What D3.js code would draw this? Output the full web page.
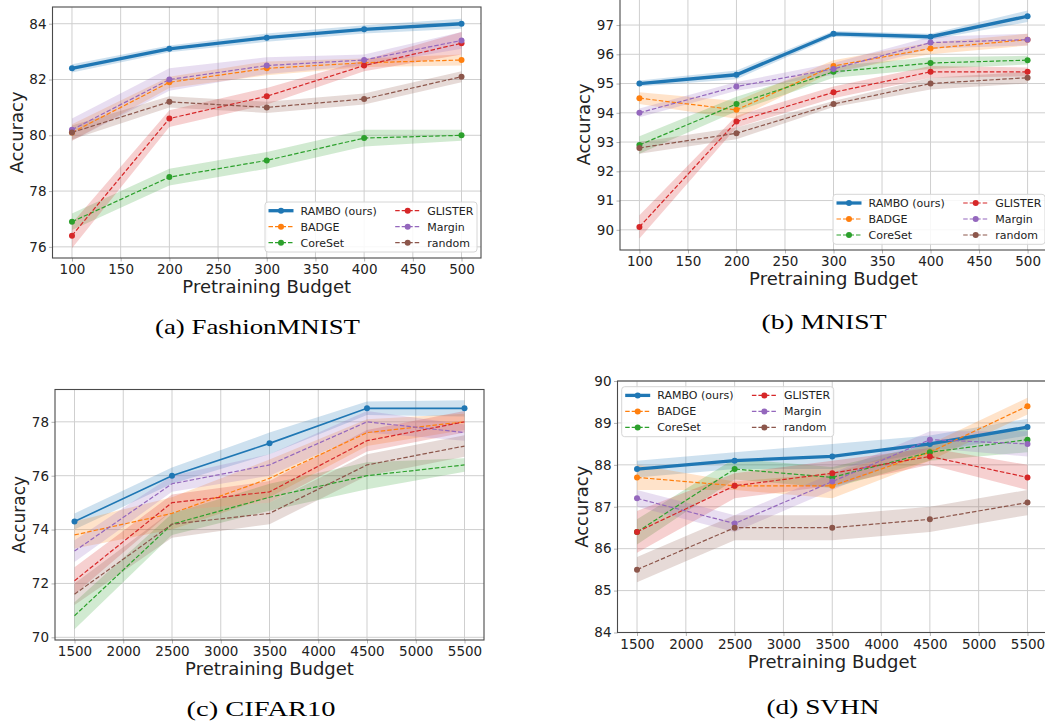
<!DOCTYPE html>
<html>
<head>
<meta charset="utf-8">
<script src="https://cdn.jsdelivr.net/npm/d3@7"></script>
<style>
body { margin: 0; background: #fff; }
svg text { font-family: "DejaVu Sans", sans-serif; fill: #222; }
</style>
</head>
<body>
<svg id="fig" width="1045" height="723"></svg>
<script>

// methods, in legend order
var methods = ['RAMBO (ours)', 'BADGE', 'CoreSet', 'GLISTER', 'Margin', 'random'];
var colors = ['#1f77b4', '#ff7f0e', '#2ca02c', '#d62728', '#9467bd', '#8c564b'];

var smallBudget = [100, 200, 300, 400, 500];
var largeBudget = [1500, 2500, 3500, 4500, 5500];
var smallTicks = [100, 150, 200, 250, 300, 350, 400, 450, 500];
var largeTicks = [1500, 2000, 2500, 3000, 3500, 4000, 4500, 5000, 5500];

// FashionMNIST (rows follow methods)
var fashionMean = [
	[82.4, 83.1, 83.5, 83.8, 84.0],
	[80.1, 81.9, 82.4, 82.6, 82.7],
	[76.9, 78.5, 79.1, 79.9, 80.0],
	[76.4, 80.6, 81.4, 82.5, 83.3],
	[80.2, 82.0, 82.5, 82.7, 83.4],
	[80.1, 81.2, 81.0, 81.3, 82.1]
];
var fashionStd = [
	[0.15, 0.12, 0.15, 0.15, 0.18],
	[0.3, 0.2, 0.25, 0.15, 0.2],
	[0.3, 0.3, 0.3, 0.3, 0.2],
	[0.45, 0.3, 0.3, 0.2, 0.4],
	[0.4, 0.4, 0.3, 0.2, 0.3],
	[0.25, 0.2, 0.2, 0.2, 0.2]
];
var fashionYTicks = [76, 78, 80, 82, 84];

// MNIST
var mnistMean = [
	[95.0, 95.3, 96.7, 96.6, 97.3],
	[94.5, 94.1, 95.6, 96.2, 96.5],
	[92.9, 94.3, 95.4, 95.7, 95.8],
	[90.1, 93.7, 94.7, 95.4, 95.4],
	[94.0, 94.9, 95.5, 96.4, 96.5],
	[92.8, 93.3, 94.3, 95.0, 95.2]
];
var mnistStd = [
	[0.1, 0.15, 0.1, 0.1, 0.2],
	[0.2, 0.3, 0.2, 0.2, 0.2],
	[0.3, 0.25, 0.2, 0.2, 0.15],
	[0.4, 0.2, 0.2, 0.2, 0.15],
	[0.15, 0.15, 0.2, 0.2, 0.2],
	[0.2, 0.2, 0.1, 0.2, 0.2]
];
var mnistYTicks = [90, 91, 92, 93, 94, 95, 96, 97];

// CIFAR10
var cifarMean = [
	[74.3, 76.0, 77.2, 78.5, 78.5],
	[73.8, 74.6, 75.9, 77.6, 78.0],
	[70.8, 74.2, 75.2, 76.0, 76.4],
	[72.1, 75.0, 75.4, 77.3, 78.0],
	[73.2, 75.7, 76.4, 78.0, 77.6],
	[71.6, 74.2, 74.6, 76.4, 77.1]
];
var cifarStd = [
	[0.3, 0.3, 0.4, 0.25, 0.3],
	[0.5, 0.6, 0.7, 0.5, 0.3],
	[0.5, 0.4, 0.5, 0.5, 0.25],
	[0.5, 0.3, 0.4, 0.4, 0.4],
	[0.4, 0.3, 0.4, 0.4, 0.3],
	[0.4, 0.5, 0.4, 0.4, 0.4]
];
var cifarYTicks = [70, 72, 74, 76, 78];

// SVHN
var svhnMean = [
	[87.9, 88.1, 88.2, 88.5, 88.9],
	[87.7, 87.5, 87.5, 88.3, 89.4],
	[86.4, 87.9, 87.7, 88.3, 88.6],
	[86.4, 87.5, 87.8, 88.2, 87.7],
	[87.2, 86.6, 87.6, 88.6, 88.5],
	[85.5, 86.5, 86.5, 86.7, 87.1]
];
var svhnStd = [
	[0.2, 0.2, 0.3, 0.2, 0.2],
	[0.3, 0.1, 0.3, 0.2, 0.2],
	[0.3, 0.25, 0.25, 0.2, 0.3],
	[0.5, 0.3, 0.3, 0.2, 0.3],
	[0.2, 0.2, 0.2, 0.2, 0.3],
	[0.3, 0.3, 0.3, 0.3, 0.3]
];
var svhnYTicks = [84, 85, 86, 87, 88, 89, 90];

var panels = [
	{ id: 'a', mean: fashionMean, std: fashionStd, budget: smallBudget, xTicks: smallTicks, yTicks: fashionYTicks,
	  box: { l: 52.5, r: 481, t: 7, b: 258 }, xDom: [80, 520], yDom: [75.6, 84.6],
	  legend: [265, 202], caption: '(a) FashionMNIST', cap: [257.5, 334, 205], light: false, ylab: 18 },
	{ id: 'b', mean: mnistMean, std: mnistStd, budget: smallBudget, xTicks: smallTicks, yTicks: mnistYTicks,
	  box: { l: 620, r: 1047, t: -1, b: 250 }, xDom: [80, 520], yDom: [89.31, 97.89],
	  legend: [833, 194.3], caption: '(b) MNIST', cap: [824, 329, 125], light: false, ylab: 18 },
	{ id: 'c', mean: cifarMean, std: cifarStd, budget: largeBudget, xTicks: largeTicks, yTicks: cifarYTicks,
	  box: { l: 55, r: 484, t: 389.5, b: 640 }, xDom: [1300, 5700], yDom: [69.9, 79.2],
	  legend: null, caption: '(c) CIFAR10', cap: [261, 716, 149], light: true, ylab: 17 },
	{ id: 'd', mean: svhnMean, std: svhnStd, budget: largeBudget, xTicks: largeTicks, yTicks: svhnYTicks,
	  box: { l: 617.5, r: 1047, t: 381, b: 632.5 }, xDom: [1300, 5700], yDom: [84, 90],
	  legend: [621.7, 386.7], caption: '(d) SVHN', cap: [823, 714, 113], light: false, ylab: 18 }
];

var svg = d3.select('#fig');
svg.append('rect').attr('width', 1045).attr('height', 723).attr('fill', '#fff');
var defs = svg.append('defs');

function lineWidth(p, i) {
	if (i === 0)
		return p.light ? 1.6 : 3.3;
	return 1.2;
}

panels.forEach(function(p) {

	var x = d3.scaleLinear().domain(p.xDom).range([p.box.l, p.box.r]);
	var y = d3.scaleLinear().domain(p.yDom).range([p.box.b, p.box.t]);
	var w = p.box.r - p.box.l;
	var h = p.box.b - p.box.t;

	defs.append('clipPath').attr('id', 'clip-' + p.id)
		.append('rect').attr('x', p.box.l).attr('y', p.box.t).attr('width', w).attr('height', h);

	var g = svg.append('g');

	// grid
	var grid = g.append('g').attr('stroke', '#cfcfcf').attr('stroke-width', 1);
	grid.selectAll('.vx').data(p.xTicks).enter().append('line')
		.attr('x1', function(d) { return x(d); }).attr('x2', function(d) { return x(d); })
		.attr('y1', p.box.t).attr('y2', p.box.b);
	grid.selectAll('.hy').data(p.yTicks).enter().append('line')
		.attr('y1', function(d) { return y(d); }).attr('y2', function(d) { return y(d); })
		.attr('x1', p.box.l).attr('x2', p.box.r);

	// axes
	var fmt = d3.format('d');
	var ax = g.append('g').attr('transform', 'translate(0,' + p.box.b + ')')
		.call(d3.axisBottom(x).tickValues(p.xTicks).tickFormat(fmt).tickSize(3.5).tickPadding(3.4));
	var ay = g.append('g').attr('transform', 'translate(' + p.box.l + ',0)')
		.call(d3.axisLeft(y).tickValues(p.yTicks).tickFormat(fmt).tickSize(3.5).tickPadding(2.5));
	[ax, ay].forEach(function(a) {
		a.attr('font-size', 13.5).attr('font-family', null);
		a.select('.domain').remove();
		a.selectAll('line').attr('stroke', '#b5b5b5');
		a.selectAll('text').style('font-size', '13.5px').style('fill', '#222');
	});

	// bands and lines
	var plot = g.append('g').attr('clip-path', 'url(#clip-' + p.id + ')');
	var area = d3.area()
		.x(function(d, i) { return x(p.budget[i]); })
		.y0(function(d) { return y(d[0] - d[1]); })
		.y1(function(d) { return y(d[0] + d[1]); });
	var line = d3.line()
		.x(function(d, i) { return x(p.budget[i]); })
		.y(function(d) { return y(d); });

	methods.forEach(function(m, i) {
		var pts = p.mean[i].map(function(v, k) { return [v, p.std[i][k]]; });
		plot.append('path').datum(pts).attr('d', area)
			.attr('fill', colors[i]).attr('fill-opacity', 0.22).attr('stroke', 'none');
	});

	methods.forEach(function(m, i) {
		plot.append('path').datum(p.mean[i]).attr('d', line)
			.attr('fill', 'none').attr('stroke', colors[i])
			.attr('stroke-width', lineWidth(p, i))
			.attr('stroke-dasharray', i === 0 ? null : '4.5,2');
		if (i === 0 || !p.light) {
			plot.selectAll('.m' + i).data(p.mean[i]).enter().append('circle')
				.attr('cx', function(d, k) { return x(p.budget[k]); })
				.attr('cy', function(d) { return y(d); })
				.attr('r', 3).attr('fill', colors[i]);
		}
	});

	// spines
	g.append('rect').attr('x', p.box.l).attr('y', p.box.t).attr('width', w).attr('height', h)
		.attr('fill', 'none').attr('stroke', '#4a4a4a').attr('stroke-width', 1.1);

	// axis titles
	g.append('text').attr('x', (p.box.l + p.box.r) / 2).attr('y', p.box.b + 35)
		.attr('text-anchor', 'middle').attr('font-size', 18).text('Pretraining Budget');
	g.append('text')
		.attr('transform', 'translate(' + (p.box.l - 30) + ',' + ((p.box.t + p.box.b) / 2) + ') rotate(-90)')
		.attr('text-anchor', 'middle').attr('font-size', p.ylab).text('Accuracy');

	// legend
	if (p.legend) {
		var L = p.legend[0], T = p.legend[1];
		var lg = g.append('g');
		lg.append('rect').attr('x', L).attr('y', T).attr('width', 212).attr('height', 50)
			.attr('rx', 3).attr('fill', '#fff').attr('fill-opacity', 0.85)
			.attr('stroke', '#d6d6d6').attr('stroke-width', 1);
		methods.forEach(function(m, i) {
			var col = i < 3 ? 0 : 1;
			var row = i % 3;
			var hx = L + 3.5 + col * 126.7;
			var cy = T + 8.7 + row * 16;
			lg.append('line').attr('x1', hx).attr('x2', hx + 25).attr('y1', cy).attr('y2', cy)
				.attr('stroke', colors[i]).attr('stroke-width', lineWidth(p, i))
				.attr('stroke-dasharray', i === 0 ? null : '4.5,2');
			lg.append('circle').attr('cx', hx + 12.5).attr('cy', cy).attr('r', 3).attr('fill', colors[i]);
			lg.append('text').attr('x', hx + 32).attr('y', cy).attr('dy', '0.36em')
				.attr('font-size', 11).text(m);
		});
	}

	// caption
	g.append('text').attr('x', p.cap[0]).attr('y', p.cap[1]).attr('text-anchor', 'middle')
		.attr('font-size', 21)
		.attr('textLength', p.cap[2]).attr('lengthAdjust', 'spacingAndGlyphs')
		.style('font-family', '"Liberation Serif", serif').style('fill', '#000')
		.text(p.caption);
});

</script>
</body>
</html>
